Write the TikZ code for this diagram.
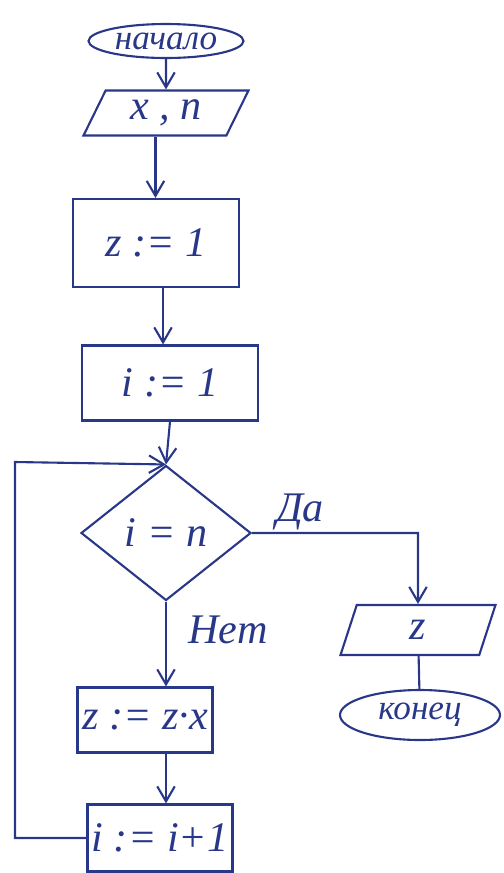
\documentclass[tikz,border=0pt]{standalone}
\usepackage{fontspec}
\setmainfont{Liberation Serif}
\usetikzlibrary{shapes.geometric,arrows.meta}
\definecolor{ink}{RGB}{40,55,135}
\newcommand{\inksize}{\fontsize{24}{26}\selectfont\itshape}
\newcommand{\termsize}{\fontsize{20}{22}\selectfont\itshape}
\tikzset{flow/.style={draw=ink, text=ink, line width=1.2pt, inner sep=0pt, font=\inksize}}
\tikzset{termbox/.style={flow, ellipse, font=\termsize}}
\tikzset{iobox/.style={flow, trapezium, trapezium left angle=50, trapezium right angle=130, trapezium stretches body}}
\tikzset{procbox/.style={flow, rectangle}}
\tikzset{condbox/.style={flow, diamond}}
\tikzset{link/.style={draw=ink, line width=1.2pt, -{Straight Barb[length=3mm,width=3.5mm]}}}

\begin{document}
\begin{tikzpicture}[x=0.02cm, y=-0.02cm]
\useasboundingbox (0,0) rectangle (504,873);

\node[termbox, minimum width=3.1cm, minimum height=0.68cm] (start) at (166,41) {начало};
\node[iobox, minimum width=3.3cm, minimum height=0.9cm] (inxn) at (166,113) {x , n};
\node[procbox, minimum width=3.32cm, minimum height=1.76cm] (setz) at (156,243) {z := 1};
\node[procbox, minimum width=3.52cm, minimum height=1.5cm] (seti) at (170,383) {i := 1};
\node[condbox, minimum width=3.4cm, minimum height=2.7cm] (check) at (166,533) {i = n};
\node[procbox, minimum width=2.7cm, minimum height=1.3cm] (mulz) at (145,720) {z := z·x};
\node[procbox, minimum width=2.9cm, minimum height=1.34cm] (inci) at (160,838) {i := i+1};
\node[iobox, minimum width=3.1cm, minimum height=1cm] (outz) at (418,630) {z};
\node[termbox, minimum width=3.2cm, minimum height=1cm] (stop) at (420,715) {конец};

\node[text=ink, font=\inksize] (yes) at (300,512) {Да};
\node[text=ink, font=\inksize] (no) at (228,630) {Нет};

\coordinate (lpbot) at (15,838);
\coordinate (lptop) at (15,462);
\coordinate (yesturn) at (outz.north |- check.east);

\draw[link] (start) -- (inxn);
\draw[link] ([xshift=-6pt]inxn.south) -- ([xshift=-6pt]inxn.south |- setz.north);
\draw[link] ([xshift=4pt]setz.south) -- ([xshift=4pt]setz.south |- seti.north);
\draw[link] (seti.south) -- (check.north);
\draw[link] (check.south) -- (check.south |- mulz.north);
\draw[link] (check.south |- mulz.south) -- (check.south |- inci.north);
\draw[link] (inci.west) -- (lpbot) -- (lptop) -- (check.north);
\draw[link] (check.east) -- (yesturn) -- (outz);
\draw[draw=ink, line width=1.2pt] (outz) -- (stop);

\end{tikzpicture}
\end{document}
